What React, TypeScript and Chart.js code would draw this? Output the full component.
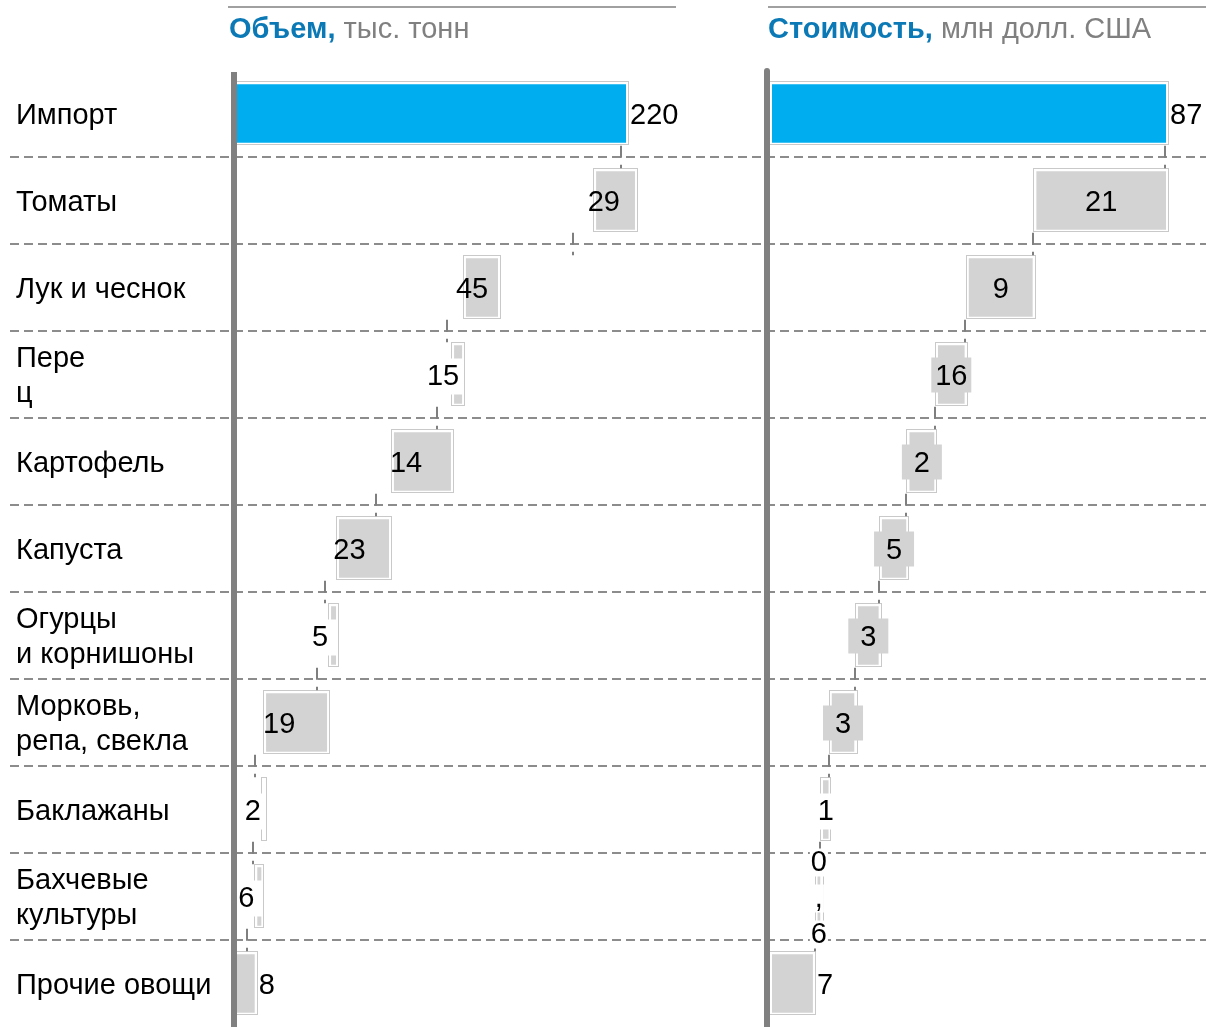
import React, { useEffect, useRef } from 'react';
import { Chart, registerables } from 'chart.js';

Chart.register(...registerables);

// ---------- data ----------
const categories: (string | string[])[] = [
  'Импорт',
  'Томаты',
  'Лук и чеснок',
  ['Пере', 'ц'],
  'Картофель',
  'Капуста',
  ['Огурцы', 'и корнишоны'],
  ['Морковь,', 'репа, свекла'],
  'Баклажаны',
  ['Бахчевые', 'культуры'],
  'Прочие овощи',
];

const volumeTitleBold = 'Объем,';
const volumeTitleUnit = 'тыс. тонн';
const valueTitleBold = 'Стоимость,';
const valueTitleUnit = 'млн долл. США';

// floating bar extents as drawn (thousand tonnes)
const volumeStart = [0, 200, 127.5, 120.9, 87.4, 56.8, 52.4, 16.2, 15, 11.3, 0];
const volumeEnd = [220, 225, 148.7, 128.7, 122.5, 88, 58.5, 53.5, 18.2, 16.9, 13.2];
const volumeLabels = ['220', '29', '45', '15', '14', '23', '5', '19', '2', '6', '8'];
const volumeLinks = [215.5, 188.8, 118.6, 113.1, 79.1, 50.7, 46.2, 11.7, 10.6, 7.2];

// floating bar extents as drawn (mln USD)
const valueStart = [0, 57.5, 42.8, 36.1, 29.9, 23.9, 18.7, 13, 11.1, 9.9, 0];
const valueEnd = [87, 87, 58, 43.2, 36.6, 30.5, 24.5, 19.2, 13.6, 11.8, 10.2];
const valueLabels = ['87', '21', '9', '16', '2', '5', '3', '3', '1', '0,6', '7'];
const valueLinks = [86.1, 57.4, 42.6, 36.1, 29.9, 23.9, 18.7, 13.0, 11.1, 10.0];

// ---------- layout / style ----------
const W = 1206;
const H = 1027;
const PLOT_LEFT = 234;
const TOP = 70;
const LEFT_PX_PER_UNIT = 395 / 220;
const RIGHT_ZERO = 769;
const RIGHT_PX_PER_UNIT = 400 / 87;
const FONT = 'Arial, "Liberation Sans", Helvetica, sans-serif';
const BLUE = '#00aeef';
const GREY = '#d3d3d3';

const overlay = {
  id: 'overlay',
  beforeDatasetsDraw(chart: any) {
    const ctx = chart.ctx;
    const ys = chart.scales.y;
    ctx.save();
    ctx.strokeStyle = '#8c8c8c';
    ctx.lineWidth = 2;
    ctx.setLineDash([9, 5]);
    for (let i = 0; i < categories.length - 1; i++) {
      const yy = Math.round((ys.getPixelForValue(i) + ys.getPixelForValue(i + 1)) / 2);
      ctx.beginPath();
      ctx.moveTo(10, yy);
      ctx.lineTo(chart.width, yy);
      ctx.stroke();
    }
    ctx.setLineDash([]);
    // category labels
    ctx.font = `29px ${FONT}`;
    ctx.fillStyle = '#000';
    ctx.textAlign = 'left';
    ctx.textBaseline = 'middle';
    categories.forEach((c, i) => {
      const lines = Array.isArray(c) ? c : [c];
      const cy = ys.getPixelForValue(i) + 2;
      const lh = 35;
      lines.forEach((ln, k) => {
        ctx.fillText(ln, 16, cy + (k - (lines.length - 1) / 2) * lh);
      });
    });
    ctx.restore();
  },
  afterDatasetsDraw(chart: any) {
    const ctx = chart.ctx;
    const panels = [
      { ds: 0, scale: chart.scales.x1, links: volumeLinks, starts: volumeStart, labels: volumeLabels, mode: 'volume' },
      { ds: 1, scale: chart.scales.x2, links: valueLinks, starts: valueStart, labels: valueLabels, mode: 'value' },
    ];
    ctx.save();
    // bar outlines
    panels.forEach((p) => {
      chart.getDatasetMeta(p.ds).data.forEach((el: any) => {
        const q = el.getProps(['x', 'y', 'base', 'height'], true);
        const l = Math.min(q.x, q.base);
        const r = Math.max(q.x, q.base);
        ctx.strokeStyle = '#c9c9c9';
        ctx.lineWidth = 1;
        ctx.strokeRect(Math.round(l) + 0.5, Math.round(q.y - q.height / 2) + 0.5, Math.round(r - l) - 1, Math.round(q.height) - 1);
      });
    });
    // connectors
    panels.forEach((p) => {
      const data = chart.getDatasetMeta(p.ds).data;
      ctx.strokeStyle = '#7f7f7f';
      ctx.lineWidth = 2;
      ctx.setLineDash([12, 7]);
      p.links.forEach((v: number, i: number) => {
        const a = data[i].getProps(['y', 'height'], true);
        const b = data[i + 1].getProps(['y', 'height'], true);
        const xx = Math.round(p.scale.getPixelForValue(v));
        ctx.beginPath();
        ctx.moveTo(xx, a.y + a.height / 2);
        ctx.lineTo(xx, b.y - b.height / 2);
        ctx.stroke();
      });
      ctx.setLineDash([]);
    });
    // vertical axis lines
    ctx.fillStyle = '#808080';
    const lx = chart.scales.x1.getPixelForValue(0);
    ctx.fillRect(lx - 3, 72, 6, H - 72);
    const rx = chart.scales.x2.getPixelForValue(0) - 2;
    ctx.strokeStyle = '#808080';
    ctx.lineWidth = 6;
    ctx.lineCap = 'round';
    ctx.beginPath();
    ctx.moveTo(rx, 71);
    ctx.lineTo(rx, H + 5);
    ctx.stroke();
    ctx.lineCap = 'butt';

    // value labels
    ctx.font = `29px ${FONT}`;
    ctx.textBaseline = 'middle';
    panels.forEach((p) => {
      chart.getDatasetMeta(p.ds).data.forEach((el: any, i: number) => {
        const q = el.getProps(['x', 'y', 'base', 'height'], true);
        const l = Math.min(q.x, q.base);
        const r = Math.max(q.x, q.base);
        const w = r - l;
        const txt = p.labels[i];
        const tw = ctx.measureText(txt).width;
        const y = q.y + 2;
        ctx.fillStyle = '#000';
        if (p.starts[i] === 0) {
          ctx.textAlign = 'left';
          ctx.fillText(txt, r + 1, y);
          return;
        }
        ctx.textAlign = 'center';
        const whiteBox = (cx: number, cy: number, tww: number, hh: number) => {
          const bx0 = Math.min(cx - tww / 2 - 1, l + 2);
          const bx1 = Math.max(cx + tww / 2 + 1, r - 2);
          ctx.fillStyle = '#fff';
          ctx.fillRect(bx0, cy - hh / 2, bx1 - bx0, hh);
          ctx.fillStyle = '#000';
        };
        if (p.mode === 'volume') {
          if (w >= 30) {
            ctx.fillText(txt, l + 0.24 * w, y);
          } else {
            const cx = l - 8;
            whiteBox(cx, y, tw, 36);
            ctx.fillText(txt, cx, y);
          }
        } else {
          const cx = (l + r) / 2;
          if (w >= 45) {
            ctx.fillText(txt, cx, y);
          } else if (w >= 20) {
            ctx.fillStyle = GREY;
            ctx.fillRect(cx - 20, y - 19, 40, 35);
            ctx.fillStyle = '#000';
            ctx.fillText(txt, cx, y);
          } else if (tw > w * 2.5 && txt.length > 1) {
            const chars = txt.split('');
            const lh = 36;
            chars.forEach((c: string, k: number) => {
              const cy = y + (k - (chars.length - 1) / 2) * lh;
              const cw = ctx.measureText(c).width;
              whiteBox(cx, cy, cw, 28);
              ctx.fillText(c, cx, cy);
            });
          } else {
            whiteBox(cx, y, tw, 36);
            ctx.fillText(txt, cx, y);
          }
        }
      });
    });
    ctx.restore();
  },
  afterDraw(chart: any) {
    const ctx = chart.ctx;
    ctx.save();
    // header rules
    ctx.strokeStyle = '#a0a0a0';
    ctx.lineWidth = 2;
    ctx.beginPath();
    ctx.moveTo(228, 7);
    ctx.lineTo(676, 7);
    ctx.moveTo(768, 7);
    ctx.lineTo(W, 7);
    ctx.stroke();
    // titles
    const titles = [
      { x: 229, bold: volumeTitleBold, unit: volumeTitleUnit },
      { x: 768, bold: valueTitleBold, unit: valueTitleUnit },
    ];
    ctx.textBaseline = 'middle';
    ctx.textAlign = 'left';
    titles.forEach((t) => {
      ctx.font = `bold 29px ${FONT}`;
      ctx.fillStyle = '#0b79b5';
      ctx.fillText(t.bold, t.x, 30);
      const bw = ctx.measureText(t.bold + ' ').width;
      ctx.font = `29px ${FONT}`;
      ctx.fillStyle = '#808080';
      ctx.fillText(t.unit, t.x + bw, 30);
    });
    ctx.restore();
  },
};

export default function App() {
  const ref = useRef<HTMLCanvasElement>(null);
  useEffect(() => {
    document.body.style.margin = '0';
    Chart.defaults.font.family = FONT;
    const plotW = W - PLOT_LEFT;
    const chart = new Chart(ref.current as HTMLCanvasElement, {
      type: 'bar',
      data: {
        labels: categories as any,
        datasets: [
          {
            label: 'volume',
            data: volumeStart.map((s, i) => [s, volumeEnd[i]]) as any,
            xAxisID: 'x1',
            backgroundColor: volumeStart.map((_, i) => (i === 0 ? BLUE : GREY)),
            borderColor: '#ffffff',
            borderWidth: 3,
            borderSkipped: false,
            barPercentage: 0.74,
            categoryPercentage: 1,
            grouped: false,
          } as any,
          {
            label: 'value',
            data: valueStart.map((s, i) => [s, valueEnd[i]]) as any,
            xAxisID: 'x2',
            backgroundColor: valueStart.map((_, i) => (i === 0 ? BLUE : GREY)),
            borderColor: '#ffffff',
            borderWidth: 3,
            borderSkipped: false,
            barPercentage: 0.74,
            categoryPercentage: 1,
            grouped: false,
          } as any,
        ],
      },
      options: {
        indexAxis: 'y',
        responsive: false,
        animation: false,
        devicePixelRatio: 1,
        layout: { padding: { top: TOP, left: 16, right: 0, bottom: 0 } },
        plugins: { legend: { display: false }, tooltip: { enabled: false } },
        scales: {
          y: {
            type: 'category',
            position: 'left',
            grid: { display: false },
            border: { display: false },
            ticks: { display: false, autoSkip: false },
            afterFit(s: any) {
              s.width = PLOT_LEFT - 16;
              s.paddingTop = 0;
              s.paddingBottom = 0;
            },
          },
          x1: {
            type: 'linear',
            display: false,
            min: 0,
            max: plotW / LEFT_PX_PER_UNIT,
          },
          x2: {
            type: 'linear',
            display: false,
            min: -(RIGHT_ZERO - PLOT_LEFT) / RIGHT_PX_PER_UNIT,
            max: (W - RIGHT_ZERO) / RIGHT_PX_PER_UNIT,
          },
        } as any,
      },
      plugins: [overlay],
    });
    return () => chart.destroy();
  }, []);
  return (
    <div style={{ width: W, height: H, position: 'relative', background: '#fff' }}>
      <canvas ref={ref} width={W} height={H} style={{ display: 'block' }} />
    </div>
  );
}
